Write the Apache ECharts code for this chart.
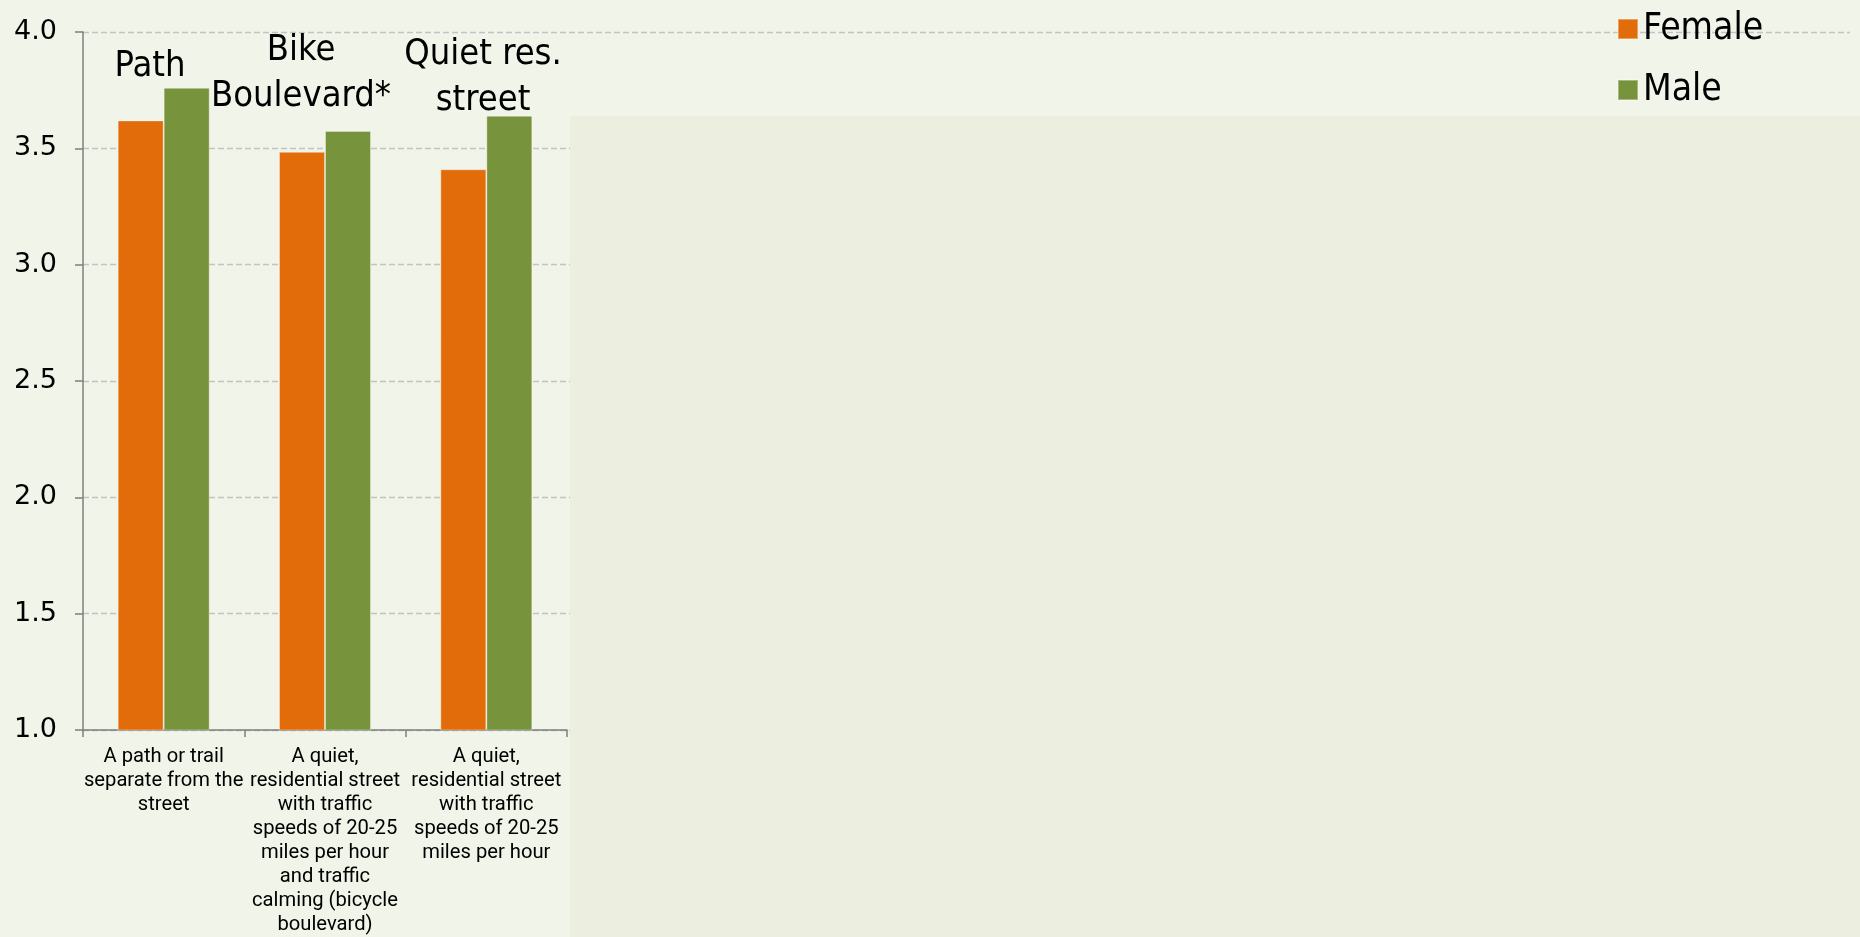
<!DOCTYPE html>
<html>
<head>
<meta charset="utf-8">
<script src="https://cdn.jsdelivr.net/npm/echarts@6/dist/echarts.min.js"></script>
<style>
  html, body { margin: 0; padding: 0; background: #F1F4E8; }
  #chart { width: 1860px; height: 937px; }
</style>
</head>
<body>
<div id="chart"></div>
<script>
// ---- data ----
var categories = [
  'A path or trail\nseparate from the\nstreet',
  'A quiet,\nresidential street\nwith traffic\nspeeds of 20-25\nmiles per hour\nand traffic\ncalming (bicycle\nboulevard)',
  'A quiet,\nresidential street\nwith traffic\nspeeds of 20-25\nmiles per hour'
];
var femaleValues = [3.62, 3.485, 3.41];
var maleValues = [3.76, 3.575, 3.64];
var seriesNames = ['Female', 'Male'];
var annotations = ['Path', 'Bike\nBoulevard*', 'Quiet res.\nstreet'];
var yMin = 1.0, yMax = 4.0, yStep = 0.5;

var condensed = '"DejaVu Sans Condensed", "Liberation Sans Narrow", "DejaVu Sans", sans-serif';

var chart = echarts.init(document.getElementById('chart'));
var option = {
  backgroundColor: '#F1F4E8',
  animation: false,
  grid: [
    { left: 83, top: 32, width: 484, bottom: 207, containLabel: false },
    { left: 83, top: 32, right: 10, bottom: 207, containLabel: false }
  ],
  legend: {
    data: seriesNames,
    orient: 'vertical',
    left: 1612,
    top: 4,
    itemWidth: 20,
    itemHeight: 20,
    itemGap: 21,
    icon: 'rect',
    textStyle: { fontFamily: condensed, fontSize: 37, color: '#000', lineHeight: 40 }
  },
  xAxis: [
    {
      type: 'category',
      gridIndex: 0,
      data: categories,
      axisLine: { lineStyle: { color: '#7F7F7F', width: 1.5 } },
      axisTick: { show: true, length: 7, alignWithLabel: false, lineStyle: { color: '#7F7F7F', width: 1.5 } },
      axisLabel: {
        interval: 0,
        margin: 15,
        fontFamily: 'Roboto, "Liberation Sans", sans-serif',
        fontSize: 20.2,
        lineHeight: 24,
        color: '#000'
      }
    },
    { type: 'value', gridIndex: 1, show: false, min: 0, max: 1 }
  ],
  yAxis: [
    {
      type: 'value',
      gridIndex: 0,
      min: yMin, max: yMax, interval: yStep,
      axisLine: { show: true, lineStyle: { color: '#7F7F7F', width: 1.5 } },
      axisTick: { show: true, length: 8, lineStyle: { color: '#7F7F7F', width: 1.5 } },
      splitLine: { show: false },
      axisLabel: {
        margin: 26,
        fontFamily: '"DejaVu Sans", sans-serif',
        fontSize: 27,
        color: '#000',
        formatter: function (v) { return v.toFixed(1); }
      }
    },
    {
      type: 'value',
      gridIndex: 1,
      min: yMin, max: yMax, interval: yStep,
      axisLine: { show: false },
      axisTick: { show: false },
      axisLabel: { show: false },
      splitLine: { show: true, lineStyle: { color: '#C3C3C3', width: 1.3, type: [6, 3] } }
    }
  ],
  series: [
    {
      name: seriesNames[0],
      type: 'bar',
      xAxisIndex: 0, yAxisIndex: 0,
      data: femaleValues,
      barWidth: 46,
      barGap: '0%',
      itemStyle: { color: '#E36C0A', borderColor: 'rgba(255,255,255,0.35)', borderWidth: 1 }
    },
    {
      name: seriesNames[1],
      type: 'bar',
      xAxisIndex: 0, yAxisIndex: 0,
      data: maleValues,
      barWidth: 46,
      barGap: '0%',
      itemStyle: { color: '#77933C', borderColor: 'rgba(255,255,255,0.35)', borderWidth: 1 }
    }
  ],
  graphic: []
};
chart.setOption(option);

// overlay panel (right side) and annotation texts
var annX = [150, 301, 483];
var annY = [67, 74, 78];
var gfx = [
  {
    type: 'rect', z: 50, silent: true,
    shape: { x: 570, y: 116, width: 1290, height: 821 },
    style: { fill: '#ECEFDF' }
  }
];
annotations.forEach(function (t, i) {
  gfx.push({
    type: 'text', z: 60, silent: true,
    style: {
      text: t, x: annX[i], y: annY[i],
      textAlign: 'center', textVerticalAlign: 'middle',
      font: '36px ' + condensed,
      lineHeight: 46,
      fill: '#000'
    }
  });
});
chart.setOption({ graphic: gfx });
</script>
</body>
</html>
